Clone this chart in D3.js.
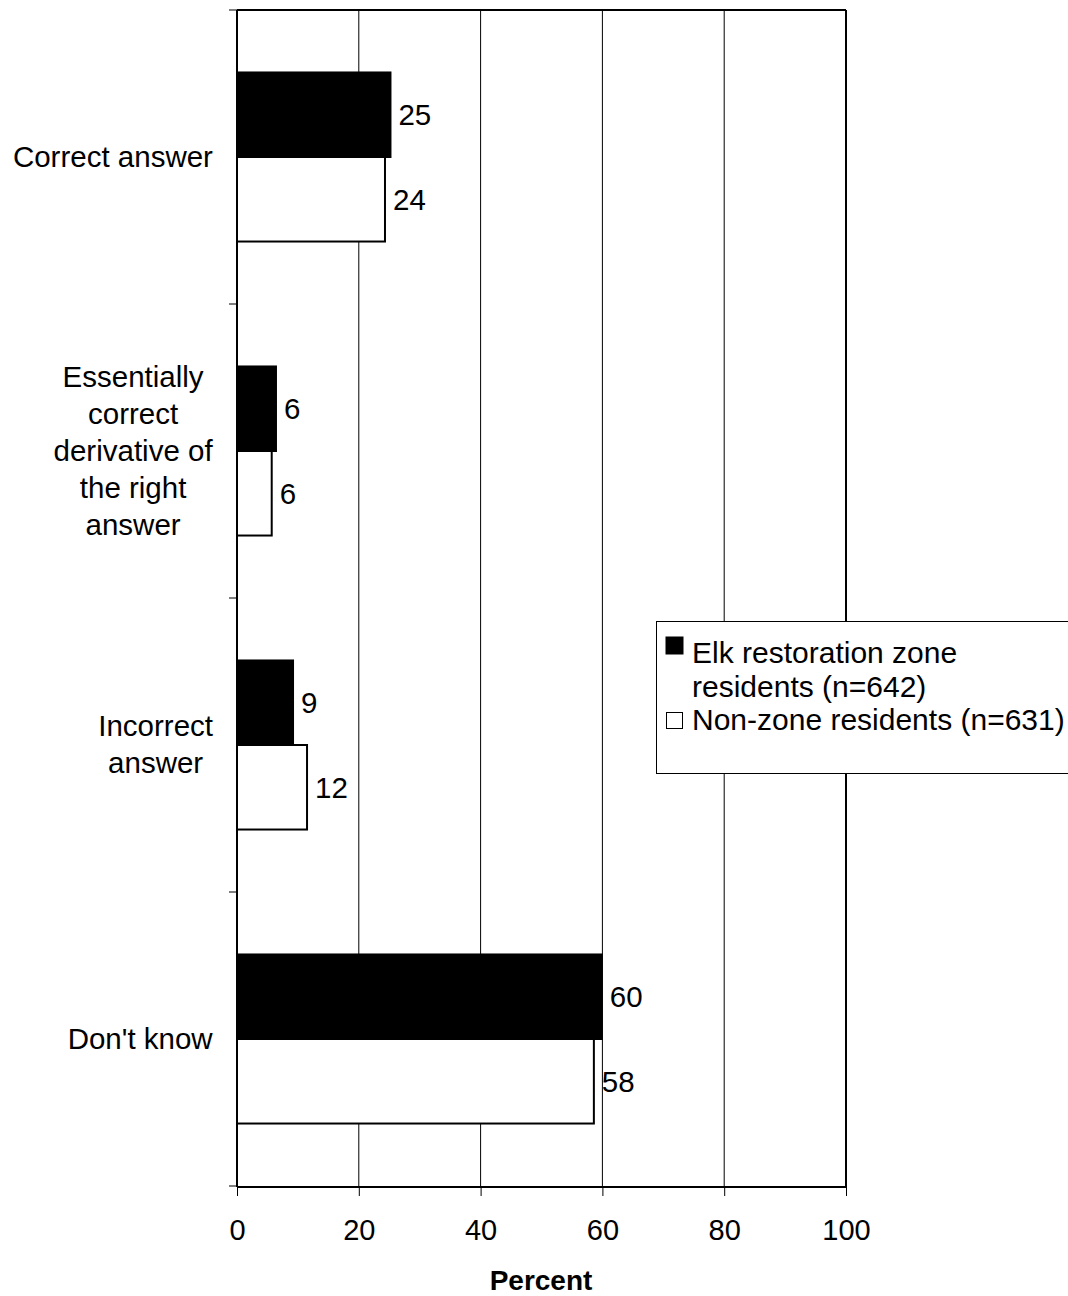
<!DOCTYPE html>
<html><head><meta charset="utf-8">
<script src="https://cdnjs.cloudflare.com/ajax/libs/d3/7.8.5/d3.min.js"></script>
<style>body{margin:0;background:#fff}svg{display:block}text{font-family:"Liberation Sans",Arial,sans-serif;fill:#000}</style>
</head><body>
<script>
const categories = [
  ["Correct answer"],
  ["Essentially","correct","derivative of","the right","answer"],
  ["Incorrect","answer"],
  ["Don't know"]
];
const catKeys = ["Correct answer","Essentially correct","Incorrect answer","Don't know"];
const seriesNames = ["Elk restoration zone residents (n=642)","Non-zone residents (n=631)"];
const zoneValues = [25.2, 6.4, 9.2, 59.9];
const nonZoneValues = [24.3, 5.7, 11.5, 58.6];
const zoneLabels = ["25","6","9","60"];
const nonZoneLabels = ["24","6","12","58"];
const xTicks = [0,20,40,60,80,100];

const FS=29.5;
const W=1068,H=1296;
const svg=d3.select("body").append("svg").attr("width",W).attr("height",H);
const x=d3.scaleLinear().domain([0,100]).range([237,846]);
const y=d3.scaleBand().domain(catKeys).range([10,1186]).paddingInner(0.425).paddingOuter(0.2125);
const sub=d3.scaleBand().domain([0,1]).range([0,y.bandwidth()]);

// gridlines
svg.append("g").selectAll("line").data(xTicks.filter(d=>d>0&&d<100)).join("line")
  .attr("x1",d=>x(d)).attr("x2",d=>x(d)).attr("y1",10).attr("y2",1186)
  .attr("stroke","#000").attr("stroke-width",1);
// frame top/right
svg.append("line").attr("x1",x(0)).attr("x2",x(100)).attr("y1",10).attr("y2",10).attr("stroke","#000").attr("stroke-width",2);
svg.append("line").attr("x1",x(100)).attr("x2",x(100)).attr("y1",10).attr("y2",1187).attr("stroke","#000").attr("stroke-width",2);

// bars
const g=svg.append("g");
catKeys.forEach((c,i)=>{
  const y0=y(c);
  g.append("rect").attr("x",x(0)).attr("y",y0+sub(0)).attr("width",x(zoneValues[i])-x(0)).attr("height",sub.bandwidth())
    .attr("fill","#000").attr("stroke","#000").attr("stroke-width",2);
  g.append("rect").attr("x",x(0)).attr("y",y0+sub(1)).attr("width",x(nonZoneValues[i])-x(0)).attr("height",sub.bandwidth())
    .attr("fill","#fff").attr("stroke","#000").attr("stroke-width",2);
  g.append("text").attr("x",x(zoneValues[i])+8).attr("y",y0+sub(0)+sub.bandwidth()/2+10.5)
    .attr("font-size",FS).text(zoneLabels[i]);
  g.append("text").attr("x",x(nonZoneValues[i])+8).attr("y",y0+sub(1)+sub.bandwidth()/2+10.5)
    .attr("font-size",FS).text(nonZoneLabels[i]);
});

// y axis
const yBounds=[10].concat(catKeys.map(c=>y(c)+y.bandwidth()+y.step()*y.paddingInner()/2));
yBounds[yBounds.length-1]=1186;
svg.append("line").attr("x1",x(0)).attr("x2",x(0)).attr("y1",10).attr("y2",1187).attr("stroke","#000").attr("stroke-width",2);
svg.append("g").selectAll("line").data(yBounds).join("line")
  .attr("x1",229).attr("x2",x(0)).attr("y1",d=>d).attr("y2",d=>d).attr("stroke","#000").attr("stroke-width",1);

// category labels
const lh=37;
catKeys.forEach((c,i)=>{
  const lines=categories[i];
  const cy=y(c)+y.bandwidth()/2;
  const t=svg.append("text").attr("font-size",FS).attr("text-anchor","middle");
  lines.forEach((l,j)=>{
    t.append("tspan").attr("x",0).attr("y",cy+(j-(lines.length-1)/2)*lh+9.5).text(l);
  });
  const bb=t.node().getBBox();
  t.attr("transform",`translate(${213-bb.width/2},0)`);
});

// x axis
const xAxis=d3.axisBottom(x).tickValues(xTicks).tickSize(9).tickPadding(24).tickSizeOuter(0);
const ax=svg.append("g").attr("transform","translate(0,1187)").call(xAxis);
ax.select(".domain").attr("stroke-width",2).attr("d",`M${x(0)},0H${x(100)}`);
ax.selectAll(".tick line").attr("stroke","#000");
ax.selectAll(".tick text").attr("font-size",29).attr("font-family","Liberation Sans, Arial, sans-serif").attr("fill","#000").attr("dy",null).attr("y",53);
svg.append("text").attr("x",541).attr("y",1290).attr("text-anchor","middle").attr("font-size",28).attr("font-weight","bold").text("Percent");

// legend
const lg=svg.append("g");
lg.append("rect").attr("x",656.5).attr("y",621.5).attr("width",430).attr("height",152).attr("fill","#fff").attr("stroke","#000").attr("stroke-width",1);
lg.append("rect").attr("x",666).attr("y",637).attr("width",17).attr("height",17).attr("fill","#000").attr("stroke","#000");
lg.append("text").attr("x",692).attr("y",663).attr("font-size",30).text("Elk restoration zone");
lg.append("text").attr("x",692).attr("y",697).attr("font-size",30).text("residents (n=642)");
lg.append("rect").attr("x",666.5).attr("y",712.5).attr("width",16).attr("height",16).attr("fill","#fff").attr("stroke","#000").attr("stroke-width",1);
lg.append("text").attr("x",692).attr("y",730).attr("font-size",30).text(seriesNames[1]);
</script>
</body></html>
